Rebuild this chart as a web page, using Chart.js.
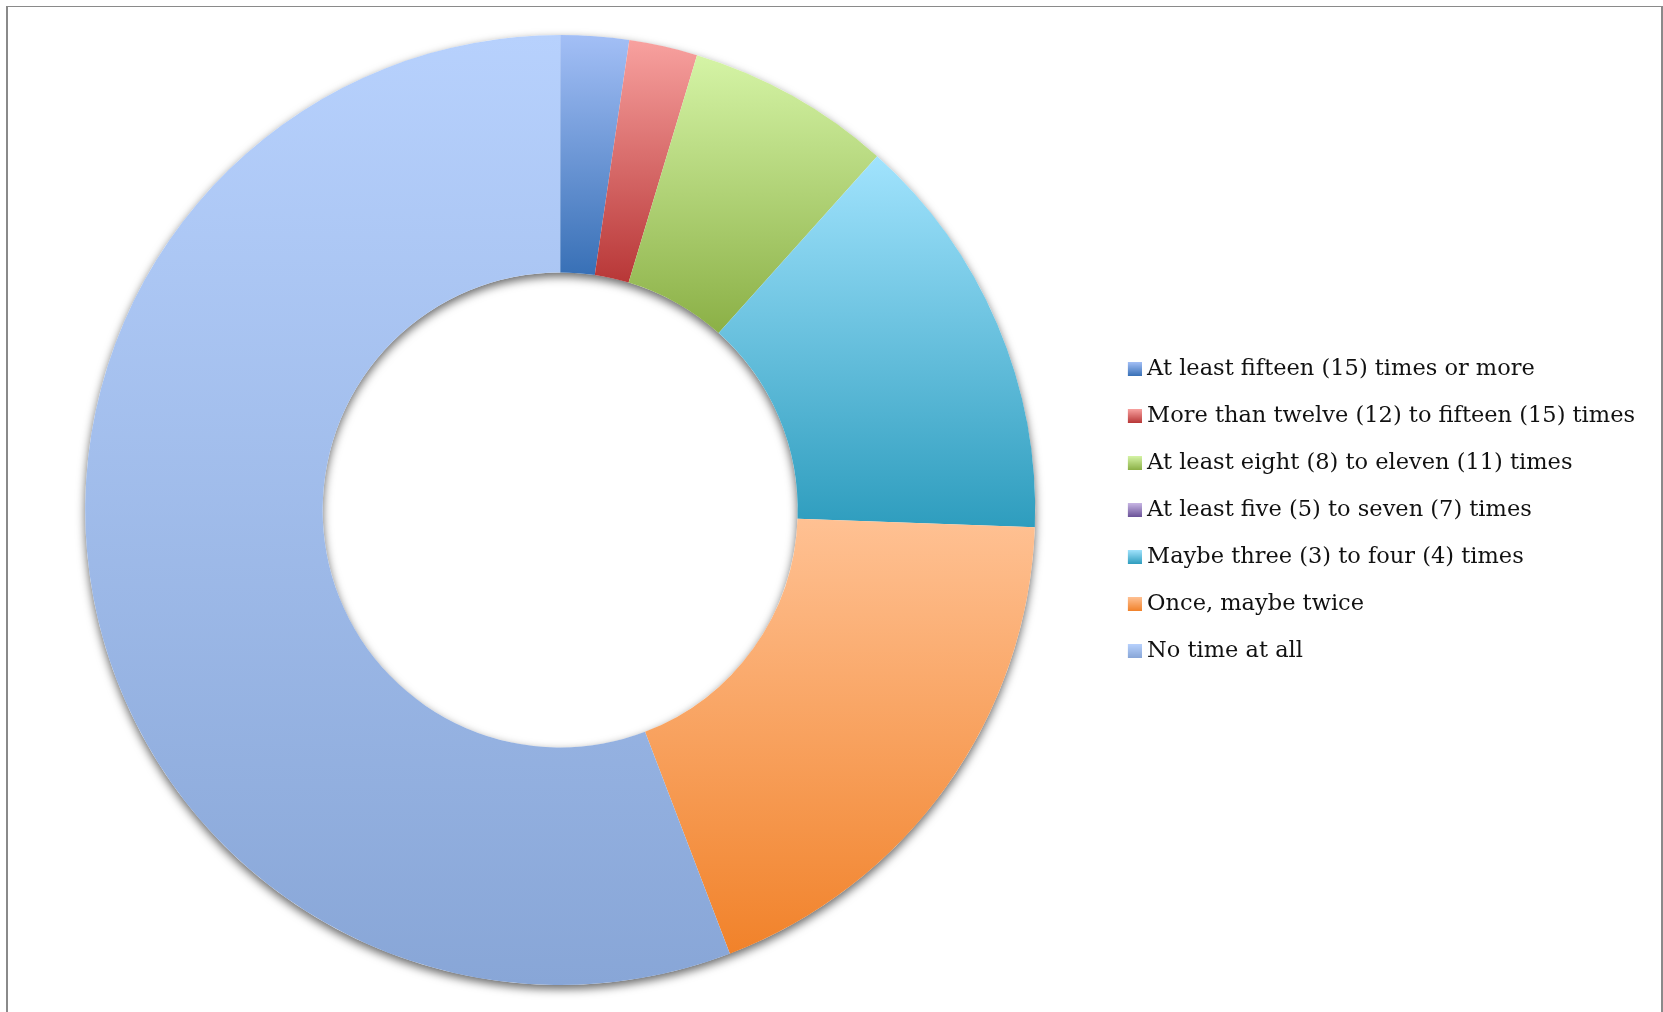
<!DOCTYPE html>
<html>
<head>
<meta charset="utf-8">
<title>Responses</title>
<script src="https://cdn.jsdelivr.net/npm/chart.js@4.4.1/dist/chart.umd.min.js"></script>
<style>
  html, body { margin: 0; padding: 0; background: #fff; }
  #wrap { position: relative; width: 1663px; height: 1012px; overflow: hidden; }
  #frame {
    position: absolute; left: 6px; top: 6px; width: 1653px; height: 1100px;
    border-top: 1px solid #8a8a8a; border-left: 2px solid #8a8a8a; border-right: 2px solid #8a8a8a;
    pointer-events: none;
  }
  #chart { position: absolute; left: 0; top: 0; }
</style>
</head>
<body>
<div id="wrap">
  <div id="frame"></div>
  <canvas id="chart" width="1663" height="1012"></canvas>
</div>
<script>
const categories = [
  'At least fifteen (15) times or more',
  'More than twelve (12) to fifteen (15) times',
  'At least eight (8) to eleven (11) times',
  'At least five (5) to seven (7) times',
  'Maybe three (3) to four (4) times',
  'Once, maybe twice',
  'No time at all',
];
const responses = [1, 1, 3, 0, 6, 8, 24];

// each slice fades from the light tone at its top to the dark tone at its bottom
const topColors = ['#a3bff6', '#f8a19f', '#d5f4a6', '#c8b6e4', '#a1e3fd', '#ffc193', '#b7d1fd'];
const bottomColors = ['#3870b6', '#b83737', '#8bb046', '#6a5298', '#2e9dbe', '#f1822a', '#88a6d7'];

const TEXT_COLOR = '#111';
const FONT = { family: "'DejaVu Serif', serif", size: 22.5 };

// vertical extent of an annular sector, used to size its gradient
function arcYRange(arc) {
  const { y, startAngle, endAngle, innerRadius, outerRadius } = arc;
  const ys = [];
  for (const a of [startAngle, endAngle]) {
    ys.push(y + Math.sin(a) * innerRadius, y + Math.sin(a) * outerRadius);
  }
  for (let k = -1; k <= 3; k += 2) {
    const a = k * Math.PI / 2;
    if (a > startAngle && a < endAngle) ys.push(y + Math.sin(a) * outerRadius);
  }
  return [Math.min(...ys), Math.max(...ys)];
}

const sliceGradients = {
  id: 'sliceGradients',
  beforeDatasetsDraw(chart) {
    const { ctx } = chart;
    const arcs = chart.getDatasetMeta(0).data;
    if (!arcs.length) return;

    // soft drop shadow under the whole ring
    const a0 = arcs[0];
    ctx.save();
    ctx.shadowColor = 'rgba(0,0,0,0.6)';
    ctx.shadowBlur = 10;
    ctx.shadowOffsetY = 4;
    ctx.beginPath();
    ctx.arc(a0.x, a0.y, a0.outerRadius, 0, Math.PI * 2);
    ctx.arc(a0.x, a0.y, a0.innerRadius, 0, Math.PI * 2, true);
    ctx.fillStyle = '#fff';
    ctx.fill();
    ctx.restore();

    arcs.forEach((arc, i) => {
      const [y0, y1] = arcYRange(arc);
      const g = ctx.createLinearGradient(0, y0, 0, Math.max(y1, y0 + 1));
      g.addColorStop(0, topColors[i]);
      g.addColorStop(1, bottomColors[i]);
      arc.options = Object.assign({}, arc.options, { backgroundColor: g });
    });
  },
};

// little gradient squares for the legend, drawn as point-style images
function makeSwatch(i) {
  const c = document.createElement('canvas');
  c.width = 26;
  c.height = 14;
  const g = c.getContext('2d');
  const grad = g.createLinearGradient(0, 0, 0, 14);
  grad.addColorStop(0, topColors[i]);
  grad.addColorStop(1, bottomColors[i]);
  g.fillStyle = grad;
  g.fillRect(12, 0, 14, 14);
  return c;
}
const swatches = categories.map((_, i) => makeSwatch(i));

new Chart(document.getElementById('chart'), {
  type: 'doughnut',
  data: {
    labels: categories,
    datasets: [{
      data: responses,
      backgroundColor: bottomColors,
      borderWidth: 0,
      hoverOffset: 0,
      offset: 0,
    }],
  },
  options: {
    responsive: false,
    animation: false,
    events: [],
    cutout: '50%',
    layout: { padding: { top: 35, bottom: 27, left: 23, right: 18 } },
    plugins: {
      tooltip: { enabled: false },
      legend: {
        position: 'right',
        align: 'center',
        labels: {
          usePointStyle: true,
          boxWidth: 14,
          boxHeight: 14,
          padding: 24.5,
          color: TEXT_COLOR,
          font: FONT,
          generateLabels: () => categories.map((text, i) => ({
            text,
            index: i,
            pointStyle: swatches[i],
            fillStyle: bottomColors[i],
            strokeStyle: 'rgba(0,0,0,0)',
            lineWidth: 0,
            fontColor: TEXT_COLOR,
            hidden: false,
          })),
        },
      },
    },
  },
  plugins: [sliceGradients],
});
</script>
</body>
</html>
